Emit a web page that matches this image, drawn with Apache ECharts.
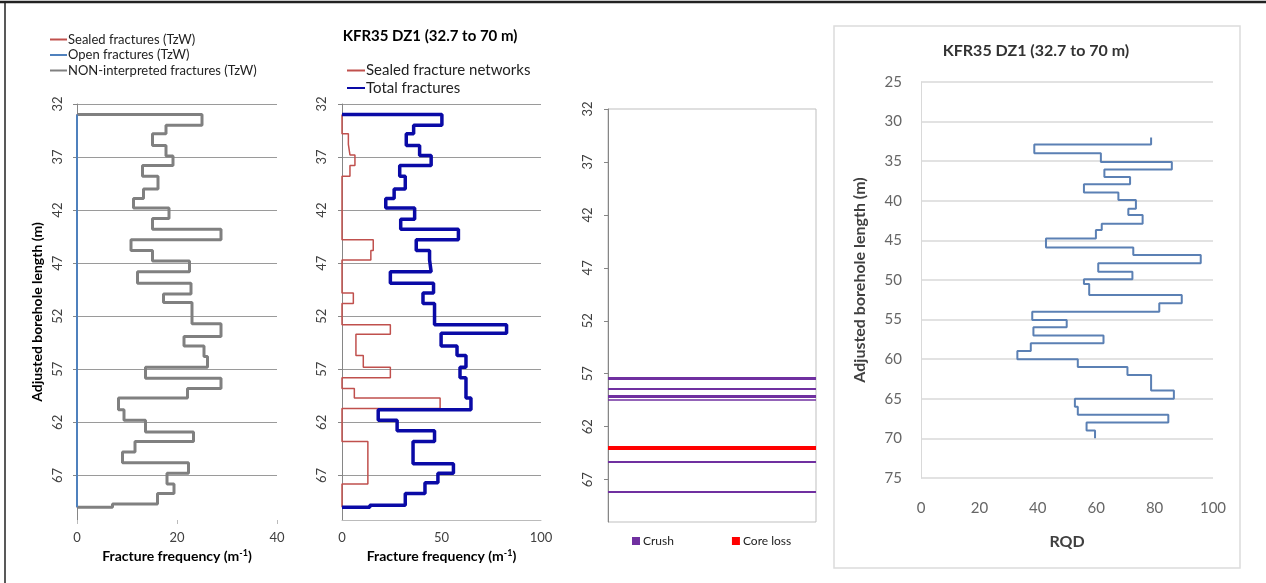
<!DOCTYPE html>
<html>
<head>
<meta charset="utf-8">
<title>KFR35 DZ1</title>
<script src="https://cdn.jsdelivr.net/npm/echarts@6/dist/echarts.min.js"></script>
<style>
html, body { margin: 0; padding: 0; background: #fff; }
#main { width: 1266px; height: 583px; }
</style>
</head>
<body>
<div id="main"></div>
<script>
// interval bounds (m) and one value per interval
var nonIntDepth = [33, 34, 34.8, 35.9, 36.9, 37.8, 38.8, 40, 40.9, 41.8, 42.8, 43.8, 44.8, 45.8, 46.8, 47.8, 48.9, 49.9, 50.7, 52.7,
	53.9, 54.8, 55.8, 56.8, 57.85, 58.8, 59.7, 60.8, 61.8, 62.9, 63.8, 64.8, 65.8, 66.8, 67.8, 68.7, 69.7, 70];
var nonIntValue = [25, 17.8, 15.1, 17.8, 19.2, 13.1, 16.2, 13.3, 11.3, 18.4, 15.1, 28.8, 10.8, 15.1, 22.5, 12.1, 22.8, 17.3, 23, 28.8,
	21.4, 25.4, 26.1, 13.7, 28.8, 22.1, 8.3, 9.4, 13.7, 23.3, 11.6, 9.1, 22.3, 18, 19.4, 16.1, 7.1];
var openDepth = [33, 70];
var openValue = [0];
var sealedTzwDepth = [33, 70];
var sealedTzwValue = [0];

var totalDepth = [33, 34, 34.8, 35.9, 36.85, 37.8, 38.8, 40, 40.9, 41.8, 42.85, 43.8, 44.8, 45.8, 46.7, 47.8, 48.9, 49.8, 50.8, 52.8,
	53.6, 54.8, 55.7, 56.8, 57.8, 59.7, 60.8, 61.8, 62.8, 63.8, 65.9, 66.8, 67.7, 68.7, 69.8, 70];
var totalValue = [50.2, 36, 32.3, 39, 44.8, 29, 31.8, 26.2, 22, 36.5, 29.5, 58.5, 37.3, 44, 44.8, 24.3, 46, 40.7, 46.5, 82.7,
	49.8, 57.8, 62.3, 59.3, 62.3, 64.8, 18.2, 27.7, 46.5, 35.7, 56, 48.2, 41.7, 31.8, 14];
var sealedNetDepth = [33, 34.8, 35.8, 36.8, 37.8, 38.8, 44.8, 45.8, 46.7, 49.8, 50.8, 52.8, 53.7, 55.7, 56.8, 57.8, 58.8, 59.7, 60.7, 63.8, 67.8, 70];
var sealedNetValue = [0, 3.2, 4, 6.5, 4, 0, 15.7, 14.5, 0, 5.7, 0, 24.3, 7, 10.7, 24.3, 0, 6.2, 49.3, 0, 13, 0];

var crushDepth = [57.44, 58.39, 59.14, 59.45, 65.27, 68.1];
var coreLossDepth = [63.98];

var rqdDepth = [32, 32.9, 34, 35.1, 36.05, 37, 37.9, 38.95, 39.9, 41, 41.8, 42.9, 43.7, 44.75, 45.9, 46.85, 47.9, 48.95, 49.9, 50.5,
	51.9, 52.95, 54, 55.05, 55.97, 57, 58, 58.96, 60, 61, 62, 63.96, 65, 66, 67, 68, 69, 69.97];
var rqdValue = [78.8, 38.8, 61.6, 85.9, 62.8, 71.6, 55.8, 67.6, 73.6, 71, 75.9, 61.9, 59.9, 42.8, 72.7, 95.8, 60.7, 72.4, 55.8, 57.6,
	89.3, 81.6, 38.1, 49.9, 38.5, 62.5, 37.6, 33, 53.7, 70.7, 78.8, 86.6, 52.7, 53.7, 84.7, 56.7, 59.6];

// axis ticks
var depthTicks = { min: 32, interval: 5 };
var rqdDepthTicks = { min: 25, max: 75, interval: 5 };
var freq1Ticks = { min: 0, max: 40, interval: 20 };
var freq2Ticks = { min: 0, max: 100, interval: 50 };
var rqdTicks = { min: 0, max: 100, interval: 20 };

var FONT = 'Lato, "Open Sans", sans-serif';

// builds a vertical step outline: [value, depth] pairs
function steps(depth, value, fromZero) {
	var pts = [];
	if (fromZero) pts.push([0, depth[0]]);
	for (var i = 0; i < value.length; i++) {
		pts.push([value[i], depth[i]]);
		pts.push([value[i], depth[i + 1]]);
	}
	if (fromZero) pts.push([0, depth[depth.length - 1]]);
	return pts;
}

function freqName() {
	return '{a|Fracture frequency (m}{s|-1}{a|)}';
}
var freqRich = {
	a: { fontFamily: FONT, fontWeight: 'bold', fontSize: 14, color: '#000', lineHeight: 16 },
	s: { fontFamily: FONT, fontWeight: 'bold', fontSize: 9, color: '#000', verticalAlign: 'top', lineHeight: 16 }
};

function depthAxis(grid, max, margin, extra) {
	var ax = {
		gridIndex: grid, type: 'value', inverse: true,
		min: depthTicks.min, max: max, interval: depthTicks.interval,
		axisLabel: { rotate: 90, margin: margin, fontSize: 13, color: '#404040', fontFamily: FONT, showMaxLabel: false },
		axisLine: { show: true, lineStyle: { color: '#868686' } },
		axisTick: { show: true, length: 4, lineStyle: { color: '#868686' } },
		splitLine: { show: true, showMaxLine: false, lineStyle: { color: '#9a9a9a' } }
	};
	return Object.assign(ax, extra || {});
}

var crushWidth = [3, 2, 3, 1.5, 2, 2];

var myChart = echarts.init(document.getElementById('main'));
var option = {
	animation: false,
	backgroundColor: '#fff',
	textStyle: { fontFamily: FONT },
	grid: [
		{ left: 77, top: 104, width: 200, height: 416 },
		{ left: 342, top: 104, width: 199, height: 416 },
		{ left: 608, top: 109, width: 208, height: 413, show: true, borderColor: '#bfbfbf', borderWidth: 1 },
		{ left: 921, top: 82, width: 292, height: 396 }
	],
	legend: [
		{
			data: ['Sealed fractures (TzW)', 'Open fractures (TzW)', 'NON-interpreted fractures (TzW)'],
			orient: 'vertical', left: 49, top: 33, padding: 0,
			itemWidth: 17, itemHeight: 14, itemGap: 2.5, selectedMode: false,
			itemStyle: { opacity: 0 },
			textStyle: { fontSize: 13, color: '#222', fontFamily: FONT, padding: [0, 0, 0, -4] }
		},
		{
			data: ['Sealed fracture networks', 'Total fractures'],
			orient: 'vertical', left: 346, top: 63, padding: 0,
			itemWidth: 18, itemHeight: 16, itemGap: 2.5, selectedMode: false,
			itemStyle: { opacity: 0 },
			textStyle: { fontSize: 15, color: '#222', fontFamily: FONT, padding: [0, 0, 0, -4] }
		},
		{
			data: ['Crush', 'Core loss'],
			orient: 'horizontal', left: 632, top: 535, padding: 0,
			icon: 'rect', itemWidth: 8, itemHeight: 8, itemGap: 58, selectedMode: false,
			textStyle: { fontSize: 12, color: '#222', fontFamily: FONT, padding: [0, 0, 0, -2] }
		}
	],
	xAxis: [
		{
			gridIndex: 0, type: 'value', min: freq1Ticks.min, max: freq1Ticks.max, interval: freq1Ticks.interval,
			axisLine: { show: false }, splitLine: { show: false },
			axisTick: { show: true, length: 4, lineStyle: { color: '#bbb' } },
			axisLabel: { margin: 11, fontSize: 13, color: '#404040', fontFamily: FONT },
			name: freqName(), nameLocation: 'middle', nameGap: 21, nameTextStyle: { rich: freqRich }
		},
		{
			gridIndex: 1, type: 'value', min: freq2Ticks.min, max: freq2Ticks.max, interval: freq2Ticks.interval,
			axisLine: { show: true, lineStyle: { color: '#bbb' } }, splitLine: { show: false },
			axisTick: { show: false },
			axisLabel: { margin: 11, fontSize: 13, color: '#404040', fontFamily: FONT },
			name: freqName(), nameLocation: 'middle', nameGap: 21, nameTextStyle: { rich: freqRich }
		},
		{ gridIndex: 2, type: 'value', min: 0, max: 1, show: false },
		{
			gridIndex: 3, type: 'value', min: rqdTicks.min, max: rqdTicks.max, interval: rqdTicks.interval,
			axisLine: { show: false }, axisTick: { show: false }, splitLine: { show: false },
			axisLabel: { margin: 23, fontSize: 15, color: '#666', fontFamily: FONT },
			name: 'RQD', nameLocation: 'middle', nameGap: 56,
			nameTextStyle: { fontSize: 16, fontWeight: 'bold', color: '#404040', fontFamily: FONT }
		}
	],
	yAxis: [
		depthAxis(0, 71.2, 13, {
			name: 'Adjusted borehole length (m)', nameLocation: 'middle', nameGap: 33,
			nameTextStyle: { fontSize: 14, fontWeight: 'bold', color: '#000', fontFamily: FONT }
		}),
		depthAxis(1, 71.2, 14),
		depthAxis(2, 71, 14, { splitLine: { show: false } }),
		{
			gridIndex: 3, type: 'value', inverse: true,
			min: rqdDepthTicks.min, max: rqdDepthTicks.max, interval: rqdDepthTicks.interval,
			axisLine: { show: true, lineStyle: { color: '#d9d9d9' } }, axisTick: { show: false },
			axisLabel: { margin: 19, fontSize: 15, color: '#666', fontFamily: FONT },
			splitLine: { show: true, lineStyle: { color: '#d9d9d9', width: 1.5 } },
			name: 'Adjusted borehole length (m)', nameLocation: 'middle', nameGap: 53,
			nameTextStyle: { fontSize: 16, fontWeight: 'bold', color: '#404040', fontFamily: FONT }
		}
	],
	series: [
		// panel 1
		{
			name: 'Sealed fractures (TzW)', type: 'line', xAxisIndex: 0, yAxisIndex: 0,
			data: steps(sealedTzwDepth, sealedTzwValue, true), symbol: 'none',
			lineStyle: { color: '#c0504d', width: 2 }, itemStyle: { color: '#c0504d' }
		},
		{
			name: 'NON-interpreted fractures (TzW)', type: 'line', xAxisIndex: 0, yAxisIndex: 0,
			data: steps(nonIntDepth, nonIntValue, true), symbol: 'none',
			lineStyle: { color: '#808080', width: 3 }, itemStyle: { color: '#808080' }
		},
		{
			name: 'Open fractures (TzW)', type: 'line', xAxisIndex: 0, yAxisIndex: 0,
			data: steps(openDepth, openValue, true), symbol: 'none',
			lineStyle: { color: '#4f81bd', width: 2 }, itemStyle: { color: '#4f81bd' }
		},
		// panel 2
		{
			name: 'Sealed fracture networks', type: 'line', xAxisIndex: 1, yAxisIndex: 1,
			data: steps(sealedNetDepth, sealedNetValue, true), symbol: 'none',
			lineStyle: { color: '#c0504d', width: 1.5 }, itemStyle: { color: '#c0504d' }
		},
		{
			name: 'Total fractures', type: 'line', xAxisIndex: 1, yAxisIndex: 1,
			data: steps(totalDepth, totalValue, true), symbol: 'none',
			lineStyle: { color: '#0a0aa6', width: 3.5 }, itemStyle: { color: '#0a0aa6' }
		},
		// panel 3
		{
			name: 'Crush', type: 'line', xAxisIndex: 2, yAxisIndex: 2, data: [],
			itemStyle: { color: '#7030a0' },
			markLine: {
				symbol: ['none', 'none'], silent: true, label: { show: false },
				lineStyle: { type: 'solid', color: '#7030a0' },
				data: crushDepth.map(function (d, i) {
					return { yAxis: d, lineStyle: { width: crushWidth[i], color: '#7030a0', type: 'solid' } };
				})
			}
		},
		{
			name: 'Core loss', type: 'line', xAxisIndex: 2, yAxisIndex: 2, data: [],
			itemStyle: { color: '#ff0000' },
			markLine: {
				symbol: ['none', 'none'], silent: true, label: { show: false },
				lineStyle: { type: 'solid', color: '#ff0000', width: 4 },
				data: coreLossDepth.map(function (d) { return { yAxis: d }; })
			}
		},
		// panel 4
		{
			name: 'RQD', type: 'line', xAxisIndex: 3, yAxisIndex: 3,
			data: steps(rqdDepth, rqdValue, false), symbol: 'none',
			lineStyle: { color: '#5b80b4', width: 2 }, itemStyle: { color: '#5b80b4' }
		}
	],
	graphic: [
		{ type: 'line', shape: { x1: 0, y1: 2, x2: 1266, y2: 2 }, style: { stroke: '#222', lineWidth: 2.5 }, silent: true },
		{ type: 'line', shape: { x1: 5, y1: 1, x2: 5, y2: 583 }, style: { stroke: '#222', lineWidth: 1.5 }, silent: true },
		{ type: 'rect', shape: { x: 834, y: 26, width: 406, height: 542 }, style: { fill: 'none', stroke: '#dcdcdc', lineWidth: 1.5 }, silent: true },
		{
			type: 'text', x: 430, y: 36, silent: true,
			style: { text: 'KFR35 DZ1 (32.7 to 70 m)', font: 'bold 15px ' + FONT, fill: '#000', align: 'center', verticalAlign: 'middle' }
		},
		{
			type: 'text', x: 1036, y: 51, silent: true,
			style: { text: 'KFR35 DZ1 (32.7 to 70 m)', font: 'bold 16px ' + FONT, fill: '#333', align: 'center', verticalAlign: 'middle' }
		}
	]
};

myChart.setOption(option);
window.addEventListener('resize', function () {
	myChart.resize();
});
</script>
</body>
</html>
